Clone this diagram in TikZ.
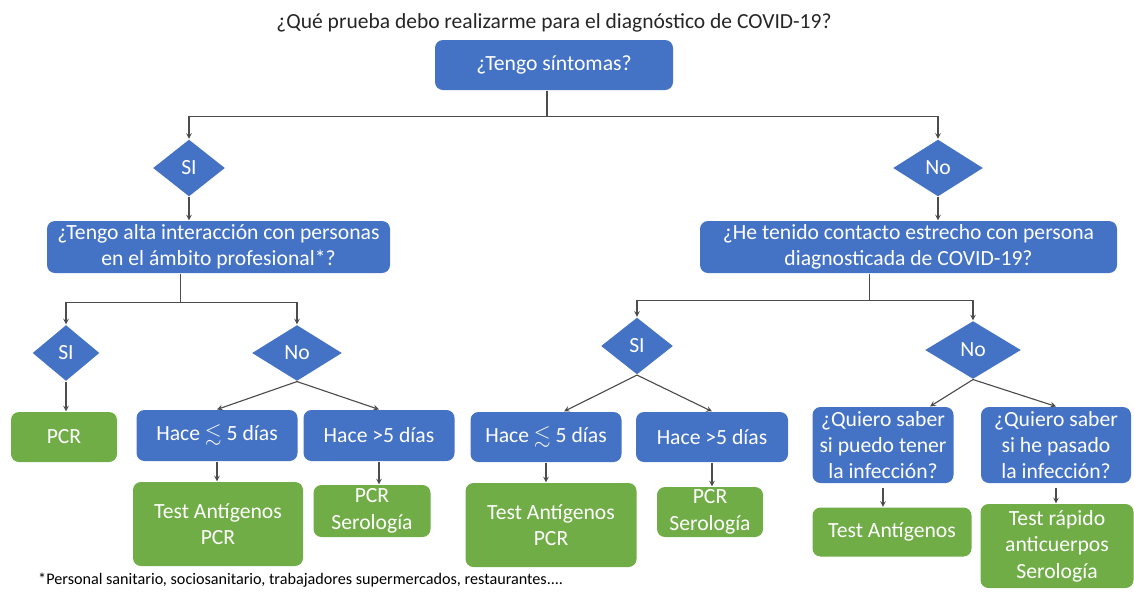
\documentclass[tikz,border=0pt]{standalone}
\usepackage{amssymb}
\usepackage{fontspec}
\setmainfont{Carlito}
\usepackage{tikz}
\usetikzlibrary{calc}
\usetikzlibrary{arrows}
\usetikzlibrary{shapes.geometric}
\definecolor{ofblue}{HTML}{4472C4}
\definecolor{ofgreen}{HTML}{70AD47}
\tikzset{
  sz/.style 2 args      = { minimum width=#1*0.25mm, minimum height=#2*0.25mm },
  box/.style            = { rectangle, rounded corners=2mm, inner sep=0pt, align=center,
                            text=white, font=\fontsize{15.4}{18.8}\selectfont },
  question/.style       = { box, fill=ofblue },
  result/.style         = { box, fill=ofgreen },
  choice/.style         = { diamond, fill=ofblue, inner sep=0pt, text=white,
                            font=\fontsize{15.4}{18.8}\selectfont },
}

\begin{document}
\begin{tikzpicture}[
  x=0.25mm,y=-0.25mm,
  >=stealth,line width=0.8pt,black!70
]
  \useasboundingbox (0,0) rectangle (1134,594);

  \node (titulo)   [text=black!85,font=\fontsize{15.3}{18}\selectfont] at (554,23)
                   {¿Qué prueba debo realizarme para el diagnóstico de COVID-19?};
  \node (sintomas) [question,sz={238}{50}]   at (554,65)    {¿Tengo síntomas?};

  \node (si1)      [choice,sz={72}{57}]      at (189,168)   {SI};
  \node (no1)      [choice,sz={90}{57}]      at (938,168)   {No};

  \node (inter)    [question,sz={343}{52}]   at (218.5,247) {¿Tengo alta interacción con personas\\en el ámbito profesional*?};
  \node (contacto) [question,sz={417}{52}]   at (908.5,247) {¿He tenido contacto estrecho con persona\\diagnosticada de COVID-19?};

  \node (si2)      [choice,sz={67}{56}]      at (66,353)    {SI};
  \node (no2)      [choice,sz={90}{56}]      at (297,353)   {No};
  \node (si3)      [choice,sz={72}{57}]      at (637,346)   {SI};
  \node (no3)      [choice,sz={96}{58}]      at (973,350)   {No};

  \node (pcr)      [result,sz={106}{50}]     at (64,437)    {PCR};
  \node (hace1)    [question,sz={161}{51}]   at (217,435.5) {Hace $\lesssim$ 5 días};
  \node (hace2)    [question,sz={151}{51}]   at (379,435.5) {Hace >5 días};
  \node (test1)    [result,sz={170}{84}]     at (218,524)   {Test Antígenos\\PCR};
  \node (serol1)   [result,sz={117}{52}]     at (372,511)   {PCR\\Serología};

  \node (hace3)    [question,sz={151}{50}]   at (546,437)   {Hace $\lesssim$ 5 días};
  \node (hace4)    [question,sz={152}{50}]   at (712,437)   {Hace >5 días};
  \node (test2)    [result,sz={171}{84}]     at (551,525)   {Test Antígenos\\PCR};
  \node (serol2)   [result,sz={106}{50}]     at (710,512)   {PCR\\Serología};

  \node (saber1)   [question,sz={141}{76}]   at (883,445)   {¿Quiero saber\\si puedo tener\\la infección?};
  \node (saber2)   [question,sz={150}{76}]   at (1056,445)  {¿Quiero saber\\si he pasado\\la infección?};
  \node (antig)    [result,sz={159}{49}]     at (892,532)   {Test Antígenos};
  \node (rapido)   [result,sz={153}{84}]     at (1057,546)  {Test rápido\\anticuerpos\\Serología};

  \node (nota)     [anchor=west,text=black,font=\fontsize{11.5}{13}\selectfont] at (33,580)
                   {*Personal sanitario, sociosanitario, trabajadores supermercados, restaurantes....};

  \draw [->] ($(sintomas.south)+(-7,0)$) -- ++(0,26) -| (si1.north);
  \draw [->] ($(sintomas.south)+(-7,0)$) -- ++(0,26) -| (no1.north);
  \draw [->] (si1.south) -- (si1.south |- inter.north);
  \draw [->] (no1.south) -- (no1.south |- contacto.north);

  \draw [->] ($(inter.south)+(-38,0)$) -- ++(0,29) -| (si2.north);
  \draw [->] ($(inter.south)+(-38,0)$) -- ++(0,29) -| (no2.north);
  \draw [->] ($(contacto.south)+(-39,0)$) -- ++(0,27) -| (si3.north);
  \draw [->] ($(contacto.south)+(-39,0)$) -- ++(0,27) -| (no3.north);

  \draw [->] (si2.south)   -> (si2.south |- pcr.north);
  \draw [->] (no2.south)   -> (hace1.north);
  \draw [->] (no2.south)   -> (hace2.north);
  \draw [->] (hace1.south) -> (hace1.south |- test1.north);
  \draw [->] (hace2.south) -> (hace2.south |- serol1.north);

  \draw [->] (si3.south)   -> ($(hace3.north)+(18,0)$);
  \draw [->] (si3.south)   -> (hace4.north);
  \draw [->] (hace3.south) -> (hace3.south |- test2.north);
  \draw [->] (hace4.south) -> (hace4.south |- serol2.north);

  \draw [->] (no3.south)   -> ($(saber1.north)+(47,0)$);
  \draw [->] (no3.south)   -> (saber2.north);
  \draw [->,shorten <=1mm] (saber1.south) -> (saber1.south |- antig.north);
  \draw [->,shorten <=1mm] (saber2.south) -> (saber2.south |- rapido.north);
\end{tikzpicture}
\end{document}
